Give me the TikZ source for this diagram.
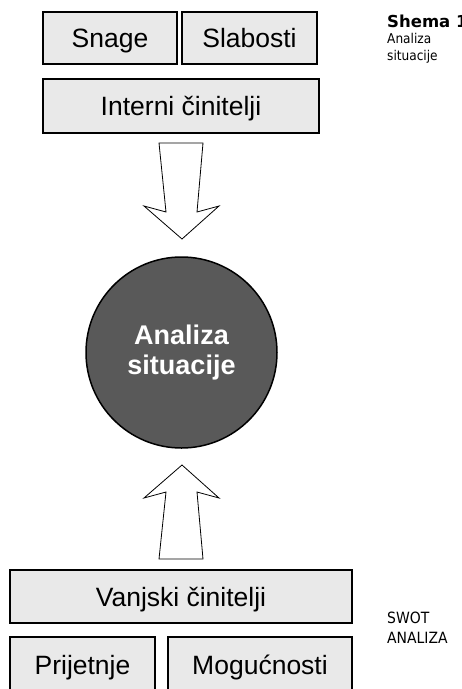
\documentclass[tikz,border=0pt]{standalone}
\usepackage{fontspec}
\setmainfont{Liberation Sans}
\newfontfamily\captfont{DejaVu Sans Condensed}
\newfontfamily\captboldfont{DejaVu Sans Bold}

\definecolor{boxgray}{HTML}{E9E9E9}
\definecolor{ballgray}{HTML}{595959}

\begin{document}
\begin{tikzpicture}[x=1pt, y=-1pt,
    factorbox/.style={draw=black, fill=boxgray, line width=1.5pt, inner sep=0pt,
      text height=19pt, text depth=0pt, font=\fontsize{26.5}{30}\selectfont},
    blockarrow/.style={draw=black, fill=white, line width=0.8pt, line join=miter},
    captline/.style={anchor=base west, inner sep=0pt, font=\captfont\fontsize{13.5}{16}\selectfont}]

          \useasboundingbox (0,0) rectangle (462,689);

          % interni
          \node[factorbox, minimum width=134, minimum height=52] (snage) at (110,38) {Snage};
          \node[factorbox, minimum width=135, minimum height=52] (slabosti) at (249.5,38) {Slabosti};
          \node[factorbox, minimum width=276, minimum height=54] (interni) at (181,106) {Interni činitelji};

          \filldraw[blockarrow] (159,143) -- (203,143) -- (197,212) -- (219,206) -- (182,239)
            -- (144,206) -- (166,212) -- cycle;

          % krug
          \node[circle, draw=black, line width=1.5pt, fill=ballgray, minimum size=191, inner sep=0pt,
            text=white, align=center, font=\bfseries\fontsize{27}{30}\selectfont]
            (analiza) at (181.5,352.5) {Analiza\\situacije};

          \filldraw[blockarrow] (159,559) -- (203,559) -- (197,492) -- (219,498) -- (182,465)
            -- (144,498) -- (166,492) -- cycle;

          % vanjski
          \node[factorbox, minimum width=342, minimum height=53] (vanjski) at (181,596.5) {Vanjski činitelji};
          \node[factorbox, minimum width=145, minimum height=55] (prijetnje) at (82.5,664.5) {Prijetnje};
          \node[factorbox, minimum width=184, minimum height=55] (mogucnosti) at (260,664.5) {Mogućnosti};

          % natpisi
          \node[captline, font=\captboldfont\fontsize{16.5}{16}\selectfont] (shema) at (387,27) {Shema 1};
          \node[captline] (shemaA) at (387,43) {Analiza};
          \node[captline] (shemaB) at (387,60) {situacije};
          \node[captline, font=\captfont\fontsize{15.5}{18}\selectfont] (swot) at (387,623) {SWOT};
          \node[captline, font=\captfont\fontsize{15.5}{18}\selectfont] (swotB) at (387,643) {ANALIZA};
        \end{tikzpicture}
\end{document}
